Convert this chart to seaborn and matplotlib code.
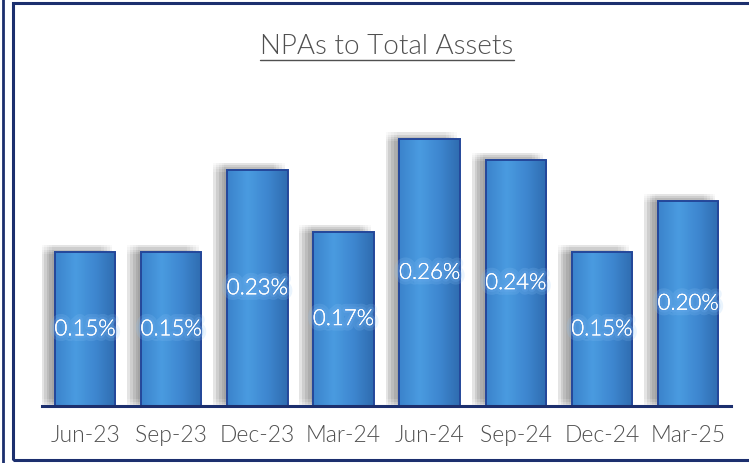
import numpy as np
import pandas as pd
import matplotlib
matplotlib.use("Agg")
import matplotlib.pyplot as plt
import matplotlib.patheffects as pe
from matplotlib.patches import Rectangle
from matplotlib.lines import Line2D
import seaborn as sns

# data
quarters = ["Jun-23", "Sep-23", "Dec-23", "Mar-24", "Jun-24", "Sep-24", "Dec-24", "Mar-25"]
npa_pct = [0.15, 0.15, 0.23, 0.17, 0.26, 0.24, 0.15, 0.20]
title = "NPAs to Total Assets"

df = pd.DataFrame({"Quarter": quarters, "NPA": npa_pct})

sns.set_theme(style="white")
plt.rcParams["font.family"] = ["Lato", "DejaVu Sans"]
plt.rcParams["font.weight"] = 300

navy = "#1c2f6e"
grey_txt = "#505050"

fig = plt.figure(figsize=(7.49, 4.64), dpi=100)
ax = fig.add_axes([0.0561, 0.122, 0.920, 0.664])

# soft shadow: several offset shadows stacked to fake a blur
shadow = [pe.SimplePatchShadow(offset=(-6 + dx, 2 + dy), shadow_rgbFace="#808080", alpha=0.045)
          for dx in (-4, -2, 0, 2, 4) for dy in (-3, -1.5, 0, 1.5, 3)]

sns.barplot(data=df, x="Quarter", y="NPA", ax=ax, width=0.70, color="#3a82cc",
            edgecolor="none", linewidth=0, saturation=1)

bars = list(ax.patches)
for b in bars:
    b.set_path_effects(shadow + [pe.Normal()])

# horizontal gradient inside each bar
grad_cmap = matplotlib.colors.LinearSegmentedColormap.from_list(
    "barg", ["#3b83cc", "#4a9be0", "#3e87d0", "#2f6cb0"])
grad = np.linspace(0, 1, 64).reshape(1, -1)
for b in bars:
    x0, y0 = b.get_x(), b.get_y()
    w, h = b.get_width(), b.get_height()
    im = ax.imshow(grad, cmap=grad_cmap, aspect="auto", extent=(x0, x0 + w, y0, y0 + h),
                   zorder=2.5, interpolation="bicubic")
    im.set_clip_path(b)
    ax.add_patch(Rectangle((x0, y0), w, h, fill=False, edgecolor="#24479a", linewidth=1.4, zorder=3))

ax.set_xlim(-0.5, len(quarters) - 0.5)
ax.set_ylim(0, 0.30)

ax.bar_label(ax.containers[0], labels=[f"{v:.2f}%" for v in npa_pct], label_type="center",
             color="white", fontsize=16, fontweight=300, zorder=5,
             path_effects=[pe.withStroke(linewidth=8, foreground="#8cc4f8", alpha=0.18),
                           pe.withStroke(linewidth=4, foreground="#6aaaf0", alpha=0.25),
                           pe.Normal()])

for s in ["top", "right", "left"]:
    ax.spines[s].set_visible(False)
ax.spines["bottom"].set_color(navy)
ax.spines["bottom"].set_linewidth(2.2)
ax.spines["bottom"].set_zorder(6)
ax.set_yticks([])
ax.set_xlabel("")
ax.set_ylabel("")
ax.tick_params(axis="x", length=0, pad=13, labelsize=16.5, labelcolor=grey_txt)
for lab in ax.get_xticklabels():
    lab.set_fontweight(300)
ax.set_facecolor("none")

# panel frame
fig.add_artist(Rectangle((13 / 749, 3 / 464), 1.2, 457 / 464, transform=fig.transFigure,
                         fill=False, edgecolor=navy, linewidth=2.2, zorder=10))
fig.add_artist(Line2D([2.5 / 749, 2.5 / 749], [0, 1], transform=fig.transFigure,
                      color=navy, linewidth=2.0))

t = fig.text(387 / 749, 1 - 47 / 464, title, ha="center", va="center",
             fontsize=20, fontweight=300, color=grey_txt)
fig.canvas.draw()
bb = t.get_window_extent()
uy = bb.y0 - 1
fig.add_artist(Line2D([bb.x0, bb.x1], [uy, uy], transform=None, color=grey_txt, linewidth=1.0))

fig.savefig("out.png", dpi=100)
